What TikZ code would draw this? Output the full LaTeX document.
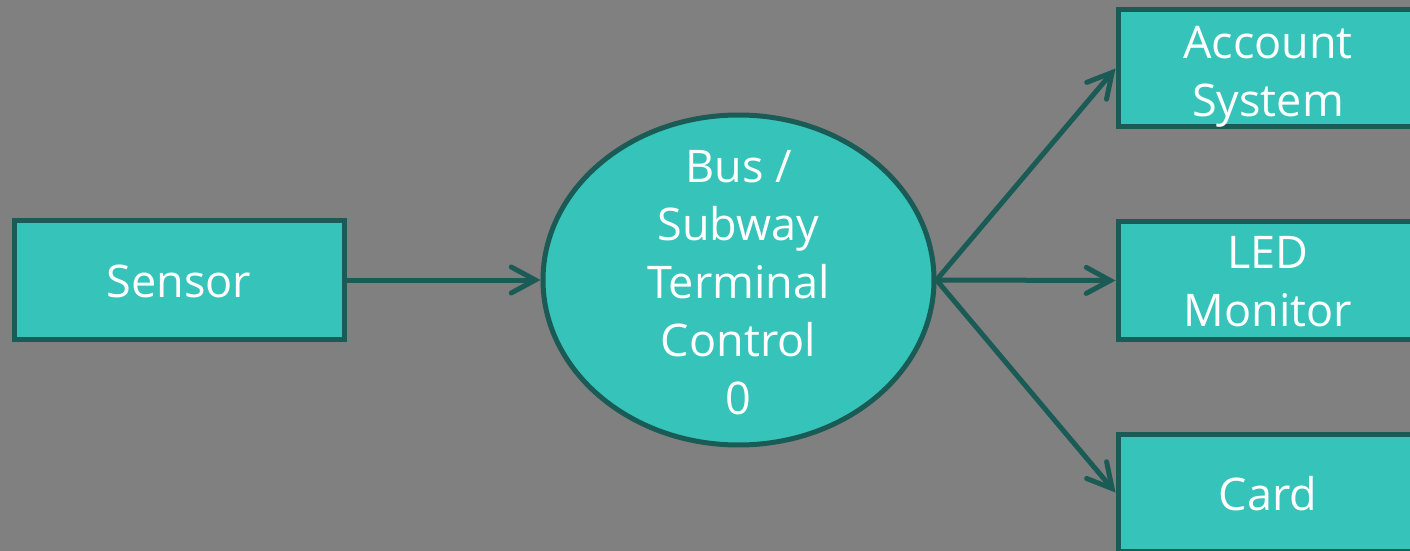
\documentclass[tikz,border=0pt]{standalone}
\usepackage{fontspec}
\setmainfont{Open Sans}
\usetikzlibrary{shapes.geometric,arrows.meta}
\definecolor{bgray}{HTML}{808080}
\definecolor{tealfill}{HTML}{36C3BA}
\definecolor{tealline}{HTML}{1B5B55}
% move a stacked label down without changing the box it occupies
\newcommand{\droplines}[2]{\raisebox{-#1}[\height][\depth]{\begin{tabular}{@{}c@{}}#2\end{tabular}}}
\tikzset{
  labelfont/.style={font=\fontsize{22.5}{29}\selectfont},
  blockbox/.style={draw=tealline, fill=tealfill, line width=2.5pt, rectangle,
    text=white, align=center, inner sep=0pt, labelfont},
  ovalnode/.style={draw=tealline, fill=tealfill, line width=2.5pt, ellipse,
    inner sep=0pt, minimum width=195.5pt, minimum height=165pt},
  ovaltext/.style={text=white, align=center, inner sep=0pt, labelfont},
  flow/.style={draw=tealline, line width=2.5pt, line cap=round,
    -{Straight Barb[length=12pt, width=13pt, line cap=round]}}
}
\begin{document}
\begin{tikzpicture}[x=0.5pt, y=-0.5pt]
  \fill[bgray] (0,0) rectangle (1410,551);
  \useasboundingbox (0,0) rectangle (1410,551);
  \clip (0,0) rectangle (1410,551);

  \node[blockbox, minimum width=165pt, minimum height=59pt] (sensor) at (179,280) {\droplines{3pt}{Sensor}};
  \node[ovalnode] (ctrl) at (738.5,280) {};
  \node[ovaltext] (ctrltext) at (738.5,283) {Bus /\\Subway\\Terminal\\Control\\0};
  \node[blockbox, minimum width=150pt, minimum height=58.5pt] (acct) at (1268,68.5) {\droplines{3.5pt}{Account\\System}};
  \node[blockbox, minimum width=150pt, minimum height=58.5pt] (led) at (1268,280.5) {\droplines{2.5pt}{LED\\Monitor}};
  \node[blockbox, minimum width=150pt, minimum height=58.5pt] (card) at (1268,492.5) {\droplines{3pt}{Card}};

  \draw[flow] (sensor.east) -- (ctrl.west);
  \draw[flow] (ctrl.east) -- (acct.west);
  \draw[flow] (ctrl.east) -- (led.west);
  \draw[flow] (ctrl.east) -- (card.west);
\end{tikzpicture}
\end{document}
